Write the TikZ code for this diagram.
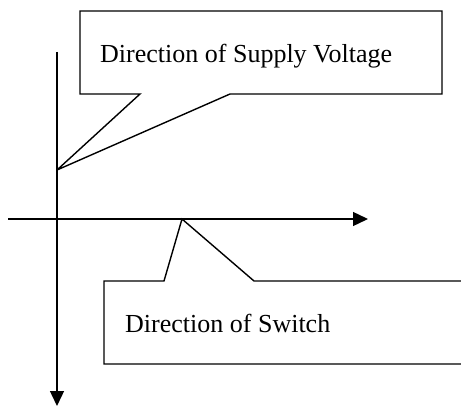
\documentclass[tikz,border=0pt]{standalone}
\usepackage{fontspec}
\setmainfont{Liberation Serif}
\usetikzlibrary{arrows.meta}
\tikzset{
  axis/.style={line width=1.4pt, -{Triangle[length=15pt,width=14pt]}},
  callout/.style={line width=1.4pt, line join=miter, miter limit=3, fill=white},
  lbl/.style={font=\fontsize{26}{30}\selectfont, anchor=base west, inner sep=0pt}
}
\begin{document}
\begin{tikzpicture}[x=1pt,y=-1pt]
\useasboundingbox (0,0) rectangle (461,406);
\clip (0,0) rectangle (461,406);
% axes
\coordinate (vtop) at (57,52);
\coordinate (vend) at (57,406);
\coordinate (hstart) at (8,219);
\coordinate (hend) at (368,219);
\draw[axis] (vtop) -- (vend);
\draw[axis] (hstart) -- (hend);
% top callout
\coordinate (tip1) at (57,170);
\draw[callout] (80,11) -- (442,11) -- (442,94) -- (230,94) -- (tip1) -- (140,94) -- (80,94) -- cycle;
\node[lbl] (supply) at (100,63) {Direction of Supply Voltage};
% bottom callout
\coordinate (tip2) at (182,219);
\draw[callout] (104,281) -- (164,281) -- (tip2) -- (254,281) -- (470,281) -- (470,364) -- (104,364) -- cycle;
\node[lbl] (switch) at (125,333) {Direction of Switch};
\end{tikzpicture}
\end{document}
